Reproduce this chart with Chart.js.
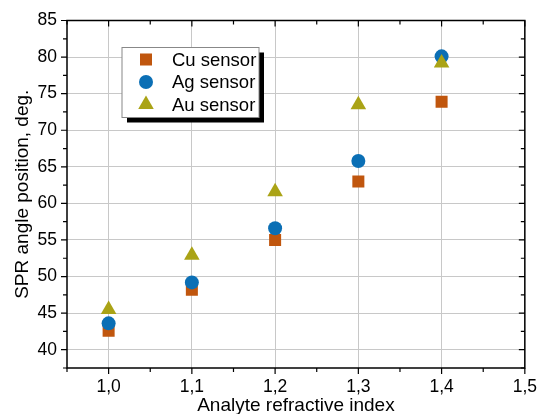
<!DOCTYPE html>
<html lang="en">
<head>
  <meta charset="UTF-8">
  <title>SPR angle vs refractive index</title>
  <script src="https://cdn.jsdelivr.net/npm/chart.js"></script>
  <style>
    html, body { margin: 0; padding: 0; background: #fff; }
    .chart-box { position: relative; width: 546px; height: 414px; }
  </style>
</head>
<body>
  <div class="chart-box">
    <canvas id="sprChart" width="546" height="414"></canvas>
  </div>

  <script>
    // data
    const refIndex = [1.0, 1.1, 1.2, 1.3, 1.4];
    const cuAngle = [42.6, 48.2, 55.0, 63.0, 73.9];
    const agAngle = [43.6, 49.2, 56.6, 65.8, 80.1];
    const auAngle = [45.5, 52.9, 61.6, 73.5, 79.2];
    const xTicks = [1.0, 1.1, 1.2, 1.3, 1.4, 1.5];
    const yTicks = [40, 45, 50, 55, 60, 65, 70, 75, 80, 85];

    const FONT = 'Liberation Sans, Arial, sans-serif';
    const pts = (xs, ys) => xs.map((x, i) => ({ x: x, y: ys[i] }));

    // frame, minor ticks, mirrored ticks, axis titles, boxed legend
    const decor = {
      id: 'decor',
      afterDraw(chart) {
        const ctx = chart.ctx;
        const a = chart.chartArea;
        const xs = chart.scales.x, ys = chart.scales.y;
        ctx.save();
        ctx.strokeStyle = '#000';
        ctx.lineWidth = 1.5;
        ctx.strokeRect(a.left, a.top, a.right - a.left, a.bottom - a.top);

        ctx.lineWidth = 1.2;
        ctx.beginPath();
        for (let v = 0.95; v <= 1.5001; v += 0.05) {
          const px = xs.getPixelForValue(v);
          const major = Math.abs(v * 10 - Math.round(v * 10)) < 1e-6;
          const len = major ? 6 : 4;
          ctx.moveTo(px, a.bottom); ctx.lineTo(px, a.bottom + len);
          ctx.moveTo(px, a.top); ctx.lineTo(px, a.top + len);
        }
        for (let v = 37.5; v <= 85.01; v += 2.5) {
          const py = ys.getPixelForValue(v);
          const major = v % 5 === 0;
          const len = major ? 6 : 4;
          ctx.moveTo(a.left, py); ctx.lineTo(a.left - len, py);
          ctx.moveTo(a.right, py); ctx.lineTo(a.right - len, py);
        }
        ctx.stroke();

        // axis titles
        ctx.fillStyle = '#000';
        ctx.font = '19px ' + FONT;
        ctx.textAlign = 'center';
        ctx.textBaseline = 'middle';
        ctx.fillText('Analyte refractive index', (a.left + a.right) / 2, 406);
        ctx.save();
        ctx.translate(23, (a.top + a.bottom) / 2);
        ctx.rotate(-Math.PI / 2);
        ctx.fillText('SPR angle position, deg.', 0, 0);
        ctx.restore();

        // legend box with drop shadow
        const bx = a.left + 55, by = a.top + 27, bw = 137, bh = 70;
        ctx.fillStyle = '#000';
        ctx.fillRect(bx + 5, by + 5, bw, bh);
        ctx.fillStyle = '#fff';
        ctx.fillRect(bx, by, bw, bh);
        ctx.strokeStyle = '#888';
        ctx.lineWidth = 1;
        ctx.strokeRect(bx, by, bw, bh);
        ctx.font = '18.5px ' + FONT;
        ctx.textAlign = 'left';
        chart.data.datasets.forEach((ds, i) => {
          const cy = by + 12 + i * 22.5;
          ctx.fillStyle = ds.backgroundColor;
          Chart.helpers.drawPoint(ctx, {
            pointStyle: ds.pointStyle,
            radius: ds.pointRadius,
            borderWidth: 0
          }, bx + 24, cy);
          ctx.fillStyle = '#000';
          ctx.fillText(ds.label, bx + 50, cy + 1);
        });
        ctx.restore();
      }
    };

    new Chart(document.getElementById('sprChart'), {
      type: 'scatter',
      data: {
        datasets: [
          { label: 'Cu sensor', data: pts(refIndex, cuAngle), pointStyle: 'rect',
            pointRadius: 8.5, backgroundColor: '#c0560e', borderWidth: 0, order: 2 },
          { label: 'Ag sensor', data: pts(refIndex, agAngle), pointStyle: 'circle',
            pointRadius: 7, backgroundColor: '#0b6fb5', borderWidth: 0, order: 1 },
          { label: 'Au sensor', data: pts(refIndex, auAngle), pointStyle: 'triangle',
            pointRadius: 9, backgroundColor: '#aaa316', borderWidth: 0, order: 0 }
        ]
      },
      options: {
        responsive: false,
        animation: false,
        events: [],
        layout: { padding: { top: 16, right: 20, left: 0, bottom: 0 } },
        plugins: { legend: { display: false }, tooltip: { enabled: false } },
        scales: {
          x: {
            type: 'linear', min: 0.95, max: 1.5,
            afterBuildTicks: s => { s.ticks = xTicks.map(v => ({ value: v })); },
            afterFit: s => { s.height = 46; },
            grid: { color: '#c8c8c8', lineWidth: 1, drawTicks: false },
            border: { display: false },
            ticks: {
              padding: 9, color: '#000', font: { family: FONT, size: 17.5 },
              callback: v => v.toFixed(1).replace('.', ',')
            }
          },
          y: {
            min: 37.5, max: 85,
            afterBuildTicks: s => { s.ticks = yTicks.map(v => ({ value: v })); },
            afterFit: s => { s.width = 67; },
            grid: { color: '#c8c8c8', lineWidth: 1, drawTicks: false },
            border: { display: false },
            ticks: {
              padding: 10, color: '#000', font: { family: FONT, size: 17.5 },
              callback: v => String(v)
            }
          }
        }
      },
      plugins: [decor]
    });
  </script>
</body>
</html>
